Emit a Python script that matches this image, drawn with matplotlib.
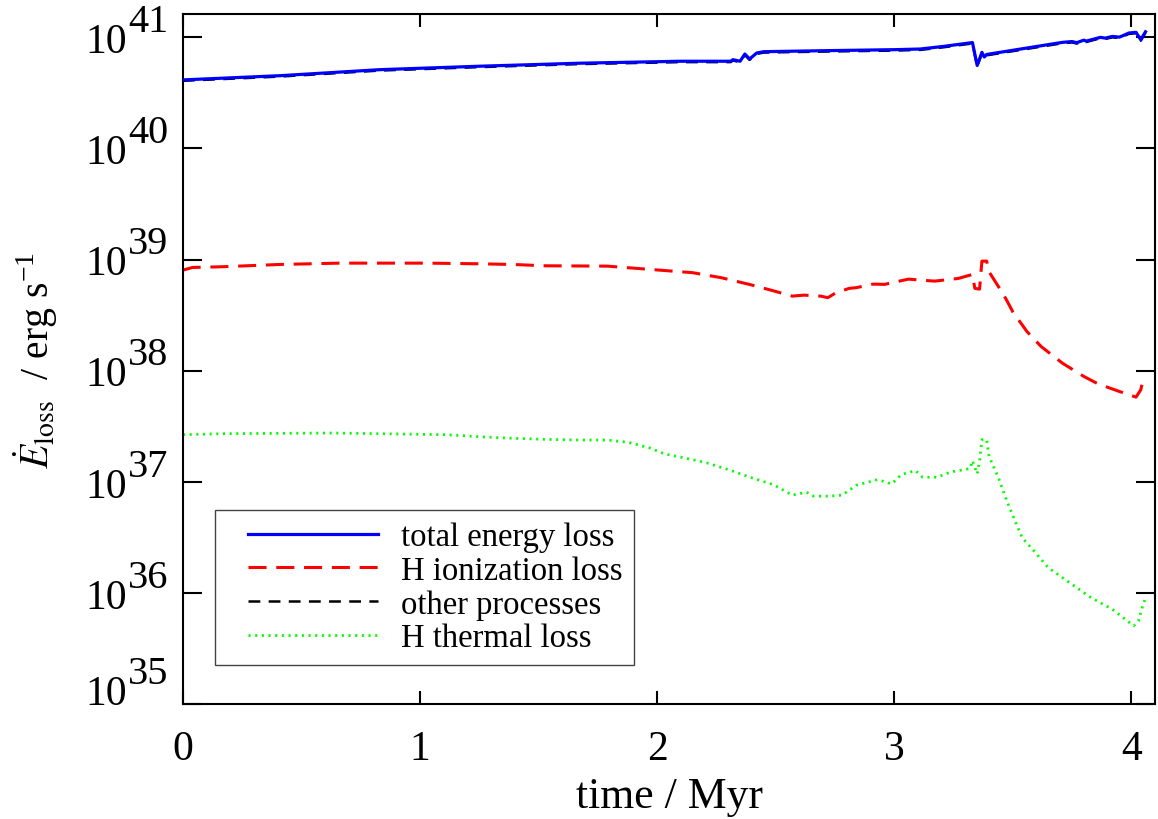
import numpy as np
import matplotlib
matplotlib.use("Agg")
import matplotlib.pyplot as plt
from matplotlib.ticker import FixedLocator, NullFormatter
from matplotlib.legend_handler import HandlerLine2D

plt.rcParams['font.family'] = ['Liberation Serif', 'DejaVu Serif']
plt.rcParams['mathtext.fontset'] = 'stix'
plt.rcParams['lines.scale_dashes'] = False

# ---- data (time in Myr, log10 of energy loss rate in erg/s) ----
t_total = [0.00, 0.41, 0.83, 1.25, 1.67, 2.10, 2.31, 2.32, 2.35, 2.37, 2.39, 2.42, 2.45,
           2.71, 3.00, 3.11, 3.21, 3.33, 3.35, 3.37, 3.38, 3.39, 3.71, 3.75, 3.77, 3.80,
           3.81, 3.87, 3.89, 3.92, 3.95, 3.97, 3.99, 4.02, 4.04, 4.06]
log_total = [40.617, 40.655, 40.709, 40.740, 40.767, 40.785, 40.785, 40.799, 40.785, 40.850,
             40.805, 40.859, 40.871, 40.880, 40.889, 40.895, 40.919, 40.953, 40.747, 40.865,
             40.823, 40.846, 40.955, 40.962, 40.952, 40.975, 40.966, 41.000, 40.993, 41.008,
             41.002, 41.020, 41.039, 41.045, 40.978, 41.050]

t_hion = [0.00, 0.04, 0.16, 0.41, 0.66, 1.03, 1.25, 1.39, 1.53, 1.79, 2.01, 2.15, 2.27, 2.39,
          2.48, 2.57, 2.62, 2.69, 2.72, 2.75, 2.81, 2.84, 2.91, 2.96, 3.06, 3.17, 3.27, 3.33,
          3.34, 3.36, 3.37, 3.39, 3.40, 3.44, 3.47, 3.50, 3.56, 3.62, 3.71, 3.80, 3.86, 3.95,
          4.02, 4.04, 4.05]
log_hion = [38.905, 38.929, 38.935, 38.956, 38.968, 38.968, 38.962, 38.956, 38.944, 38.941,
            38.905, 38.882, 38.837, 38.776, 38.725, 38.671, 38.680, 38.671, 38.657, 38.696,
            38.741, 38.747, 38.779, 38.777, 38.824, 38.806, 38.830, 38.866, 38.741, 38.734,
            38.986, 38.986, 38.890, 38.756, 38.651, 38.531, 38.352, 38.217, 38.067, 37.948,
            37.881, 37.813, 37.762, 37.828, 37.924]

t_hth = [0.00, 0.17, 0.63, 1.11, 1.25, 1.36, 1.53, 1.67, 1.79, 1.88, 1.97, 2.03, 2.15, 2.21,
         2.30, 2.40, 2.49, 2.57, 2.63, 2.66, 2.73, 2.78, 2.84, 2.93, 2.99, 3.03, 3.09, 3.12,
         3.18, 3.24, 3.32, 3.33, 3.35, 3.36, 3.37, 3.39, 3.40, 3.44, 3.47, 3.51, 3.54, 3.59,
         3.65, 3.74, 3.83, 3.92, 4.01, 4.03, 4.05, 4.06]
log_hth = [37.424, 37.433, 37.439, 37.424, 37.406, 37.394, 37.382, 37.376, 37.376, 37.355,
           37.304, 37.252, 37.199, 37.170, 37.110, 37.035, 36.975, 36.880, 36.907, 36.871,
           36.871, 36.880, 36.969, 37.020, 36.981, 37.065, 37.101, 37.041, 37.041, 37.089,
           37.119, 37.190, 37.071, 37.185, 37.379, 37.379, 37.230, 37.035, 36.856, 36.646,
           36.496, 36.377, 36.227, 36.092, 35.958, 35.853, 35.704, 35.747, 35.898, 35.952]

# other processes: nearly identical to total (slightly below)
t_other = t_total
log_other = [v - 0.008 for v in log_total]

labels = ['total energy loss', 'H ionization loss', 'other processes', 'H thermal loss']
x_ticks = [0, 1, 2, 3, 4]
y_tick_exps = [35, 36, 37, 38, 39, 40, 41]

fig = plt.figure(figsize=(11.58, 8.2), dpi=100)
ax = fig.add_axes([0.158, 0.1402, 0.8394, 0.8415])

ax.plot(t_total, 10 ** np.array(log_total), color='#0000ff', lw=2.3, label=labels[0], zorder=3)
ax.plot(t_hion, 10 ** np.array(log_hion), color='#ff0000', lw=2.2, dashes=(13, 7), label=labels[1])
ax.plot(t_other, 10 ** np.array(log_other), color='black', lw=1.8, dashes=(8.5, 6), label=labels[2], zorder=2)
ax.plot(t_hth, 10 ** np.array(log_hth), color='#00ff00', lw=2.0, dashes=(1.5, 3.3), label=labels[3])

ax.set_yscale('log')
ax.set_xlim(0, 4.1)
ax.set_ylim(1e35, 10 ** 41.21)

ax.xaxis.set_major_locator(FixedLocator(x_ticks))
ax.yaxis.set_major_locator(FixedLocator([10.0 ** e for e in y_tick_exps]))
ax.yaxis.set_minor_locator(FixedLocator([]))
ax.yaxis.set_major_formatter(NullFormatter())
ax.yaxis.set_minor_formatter(NullFormatter())

# y tick labels: "10" with a large raised exponent (as in the reference)
for e in y_tick_exps:
    dy = 10.8 if e == y_tick_exps[0] else 0.0
    ax.annotate('10', xy=(0, 10.0 ** e), xycoords=('axes fraction', 'data'),
                xytext=(-40.3, -10.6 + dy), textcoords='offset points',
                ha='right', va='baseline', fontsize=30, annotation_clip=False)
    ax.annotate(str(e), xy=(0, 10.0 ** e), xycoords=('axes fraction', 'data'),
                xytext=(-10.8, 4.5 + dy), textcoords='offset points',
                ha='right', va='baseline', fontsize=29, annotation_clip=False)

for s in ax.spines.values():
    s.set_linewidth(1.5)
ax.tick_params(axis='y', which='major', direction='in', length=13.7, width=1.5,
               left=True, right=True)
ax.tick_params(axis='x', which='major', direction='in', length=9.4, width=1.5,
               bottom=True, top=True, labelsize=30, pad=18)
ax.tick_params(which='minor', length=0)

ax.set_xlabel('time / Myr', fontsize=31.5, labelpad=6)
ax.set_ylabel(r'$\dot{E}_{\rm loss}$  / erg s$^{\mathregular{-1}}$', fontsize=28.5)
ax.yaxis.set_label_coords(-0.127, 0.5)

fs = 23.5
leg = ax.legend(loc='lower left', bbox_to_anchor=(0.033, 0.057), borderaxespad=0,
                fontsize=fs, handlelength=4.65, handletextpad=0.69, labelspacing=0.1,
                fancybox=False, framealpha=1, edgecolor='#444444', borderpad=0.35,
                handler_map={plt.Line2D: HandlerLine2D(xpad=0.65)})
leg.get_frame().set_linewidth(1.0)

fig.savefig('out.png', dpi=100)
